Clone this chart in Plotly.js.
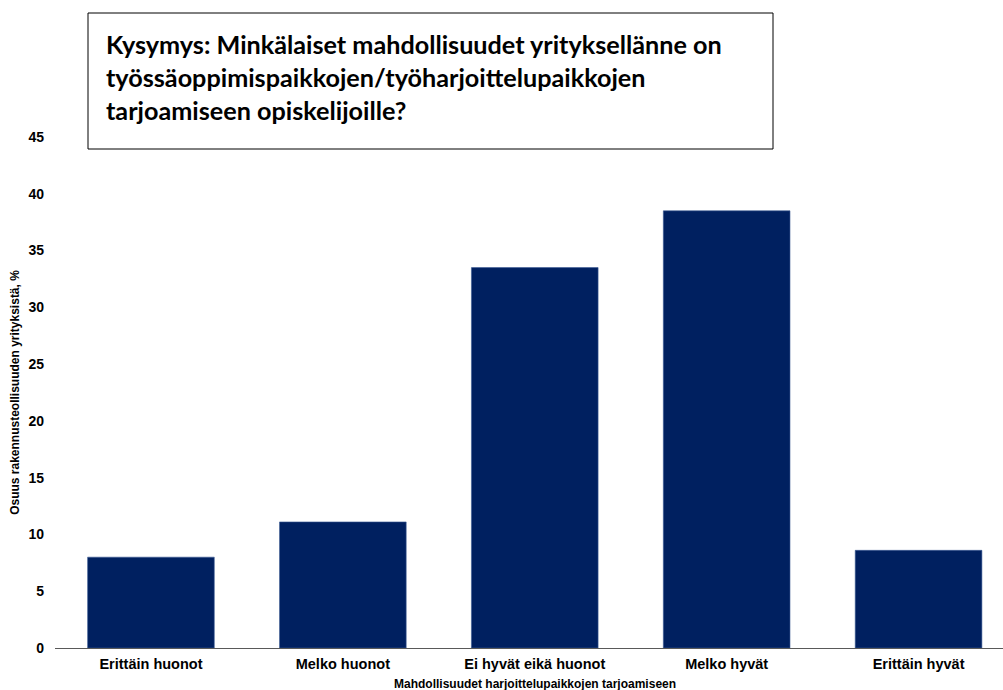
<!DOCTYPE html>
<html>
<head>
<meta charset="utf-8">
<script src="https://cdn.plot.ly/plotly-3.0.1.min.js"></script>
<style>html,body{margin:0;padding:0;background:#fff;}#chart{width:1003px;height:690px;}</style>
</head>
<body>
<div id="chart"></div>
<script>
const categories = ["Erittäin huonot", "Melko huonot", "Ei hyvät eikä huonot", "Melko hyvät", "Erittäin hyvät"];
const shares = [8.0, 11.1, 33.5, 38.5, 8.6];
const yTicks = [0, 5, 10, 15, 20, 25, 30, 35, 40, 45];
const titleText = "Kysymys: Minkälaiset mahdollisuudet yrityksellänne on<br>työssäoppimispaikkojen/työharjoittelupaikkojen<br>tarjoamiseen opiskelijoille?";
const yTitle = "Osuus rakennusteollisuuden yrityksistä, %";
const xTitle = "Mahdollisuudet harjoittelupaikkojen tarjoamiseen";

const trace = {
  type: "bar",
  x: categories.map((c, i) => i),
  y: shares,
  width: 0.66,
  marker: {color: "#002060", line: {color: "#3a5a94", width: 0.6}},
  hoverinfo: "skip"
};

const layout = {
  width: 1003, height: 690,
  margin: {l: 55, r: 0, t: 137, b: 42},
  paper_bgcolor: "#fff", plot_bgcolor: "#fff",
  showlegend: false,
  font: {family: "Liberation Sans, Arial, sans-serif", color: "#000"},
  xaxis: {
    range: [-0.5, 4.44],
    tickmode: "array",
    tickvals: categories.map((c, i) => i),
    ticktext: categories,
    tickfont: {size: 14.5, family: "Liberation Sans, Arial", weight: "bold", color: "#000"},
    showgrid: false, zeroline: false,
    showline: true, linecolor: "#595959", linewidth: 1.3,
    ticks: "", ticklabelstandoff: 2, fixedrange: true
  },
  yaxis: {
    range: [0, 45],
    tickmode: "array",
    tickvals: yTicks,
    ticktext: yTicks.map(String),
    tickfont: {size: 14, family: "Liberation Sans, Arial", weight: "bold", color: "#000"},
    showgrid: false, zeroline: false, showline: false,
    ticks: "", ticklabelstandoff: 10,
    title: {text: yTitle, font: {size: 12, family: "Liberation Sans, Arial", weight: "bold", color: "#000"}, standoff: 6},
    fixedrange: true
  },
  shapes: [{
    type: "rect", xref: "paper", yref: "paper",
    x0: (88 - 55) / 948, x1: (773 - 55) / 948,
    y0: (648 - 149) / 511, y1: (648 - 13) / 511,
    line: {color: "#000", width: 1}, fillcolor: "rgba(0,0,0,0)"
  }],
  annotations: [
    {
      text: titleText, xref: "paper", yref: "paper",
      x: (104 - 55) / 948, y: (648 - 27) / 511,
      xanchor: "left", yanchor: "top", align: "left", showarrow: false,
      font: {family: "Lato, sans-serif", size: 25.2, weight: "bold", color: "#000"}
    },
    {
      text: xTitle, xref: "x", yref: "paper",
      x: 2, y: (648 - 684) / 511, xanchor: "center", yanchor: "middle", showarrow: false,
      font: {size: 12, family: "Liberation Sans, Arial", weight: "bold", color: "#000"}
    }
  ]
};

Plotly.newPlot("chart", [trace], layout, {displayModeBar: false, staticPlot: true});
</script>
</body>
</html>
